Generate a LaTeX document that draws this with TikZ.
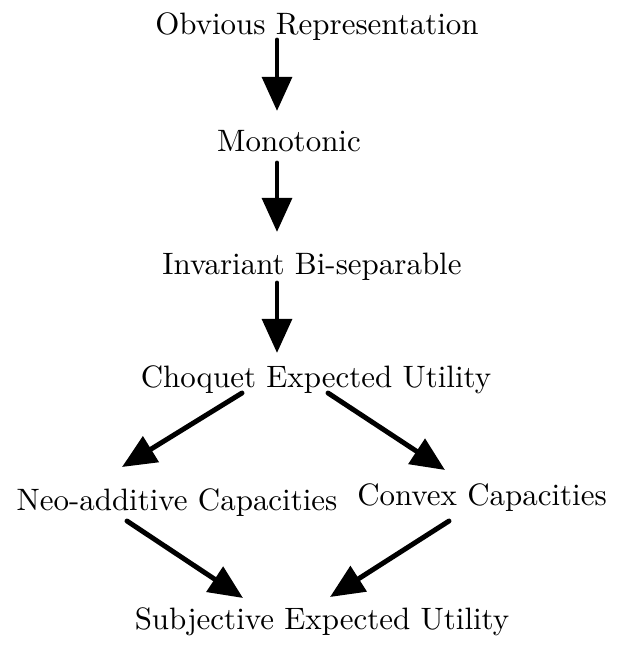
\documentclass[tikz,border=0pt]{standalone}
\usetikzlibrary{arrows.meta, positioning}
\tikzstyle{concept} = [anchor=base, inner sep=0pt, font=\normalsize]
\tikzstyle{implies} = [-{Triangle[length=11pt, width=9.5pt]}, line width=1.6pt, line cap=round]

\begin{document}
\begin{tikzpicture}[x=0.3231pt, y=-0.3231pt]
    \useasboundingbox (0,0) rectangle (625,645);

    \node (obvious) [concept] at (317,35) {Obvious Representation};
    \node (monotonic) [concept] at (289,152) {Monotonic};
    \node (invariant) [concept] at (312,275) {Invariant Bi-separable};
    \node (choquet) [concept] at (316,387) {Choquet Expected Utility};
    \node (neo) [concept] at (177,510) {Neo-additive Capacities};
    \node (convex) [concept] at (482,505) {Convex Capacities};
    \node (seu) [concept] at (322,629) {Subjective Expected Utility};

    % Arrows.
    \draw [implies] ([shift={(-40,5)}]obvious.base) -- ([shift={(-12,-41)}]monotonic.base);
    \draw [implies] ([shift={(-12,11)}]monotonic.base) -- ([shift={(-35,-43)}]invariant.base);
    \draw [implies] ([shift={(-35,8)}]invariant.base) -- ([shift={(-39,-34)}]choquet.base);
    \draw [implies] ([shift={(-74,6)}]choquet.base) -- ([shift={(-55,-43)}]neo.base);
    \draw [implies] ([shift={(12,6)}]choquet.base) -- ([shift={(-37,-35)}]convex.base);
    \draw [implies] ([shift={(-50,11)}]neo.base) -- ([shift={(-79,-31)}]seu.base);
    \draw [implies] ([shift={(-33,16)}]convex.base) -- ([shift={(8,-32)}]seu.base);
\end{tikzpicture}
\end{document}
